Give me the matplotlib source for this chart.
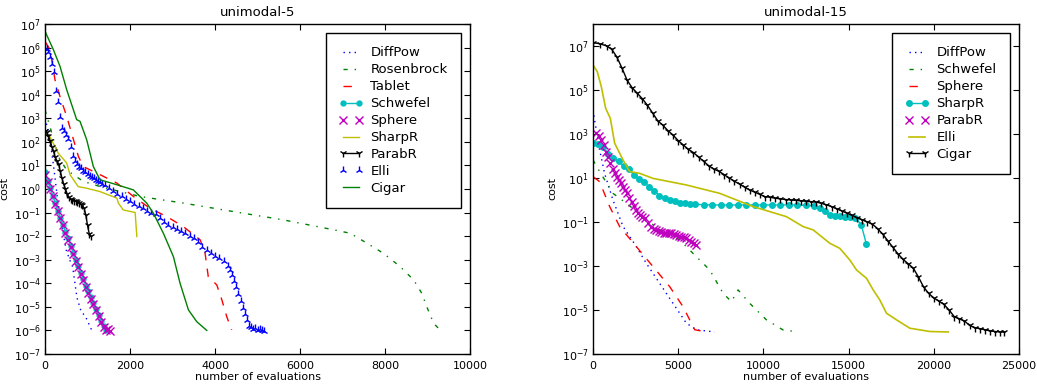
import numpy as np
import matplotlib
matplotlib.use('Agg')
import matplotlib.pyplot as plt
from matplotlib.ticker import NullLocator

# ---- unimodal-5 : (evaluations, log10 cost) ----
u5_diffpow_x = [0, 100, 200, 300, 400, 500, 600, 650, 750, 850, 950, 1100]
u5_diffpow_y = [3.0, 2.3, 1.0, -0.5, -1.6, -2.6, -3.1, -3.3, -4.6, -5.2, -5.4, -6.0]

u5_rosen_x = [0, 160, 310, 510, 900, 1300, 2235, 3255, 4430, 5600, 6780, 7180, 7570, 7960, 8350, 8670, 8860, 8980, 9140, 9330]
u5_rosen_y = [3.36, 2.37, 1.38, 0.8, 0.32, 0.1, -0.32, -0.6, -0.96, -1.31, -1.73, -1.88, -2.3, -2.73, -3.29, -3.86, -4.42, -5.0, -5.7, -6.05]

u5_tablet_x = [0, 120, 235, 350, 510, 670, 785, 900, 1300, 1690, 2080, 2470, 2860, 3255, 3650, 3765, 3840, 4040, 4160, 4275, 4390]
u5_tablet_y = [6.26, 5.91, 4.63, 3.93, 3.08, 2.09, 1.38, 0.95, 0.6, 0.25, -0.32, -0.82, -1.17, -1.6, -2.16, -2.73, -3.72, -4.07, -4.71, -5.42, -5.98]

u5_schwefel_x = [0, 60, 120, 180, 240, 300, 360, 420, 480, 540, 600, 660, 720, 780, 840, 900, 960, 1020, 1080, 1140, 1200, 1260, 1320, 1380, 1440]
u5_schwefel_y = [0.7, 0.35, 0.05, -0.28, -0.6, -0.92, -1.22, -1.52, -1.82, -2.1, -2.4, -2.7, -3.0, -3.28, -3.55, -3.82, -4.1, -4.35, -4.6, -4.85, -5.1, -5.35, -5.6, -5.82, -6.0]

u5_sphere_x = [0, 60, 120, 180, 240, 300, 360, 420, 480, 540, 600, 660, 720, 780, 840, 900, 960, 1020, 1080, 1140, 1200, 1260, 1320, 1380, 1430, 1480, 1530]
u5_sphere_y = [0.6, 0.3, 0.0, -0.3, -0.62, -0.95, -1.25, -1.55, -1.85, -2.15, -2.45, -2.75, -3.05, -3.32, -3.6, -3.87, -4.15, -4.4, -4.65, -4.9, -5.15, -5.4, -5.65, -5.85, -6.0, -5.95, -6.02]

u5_sharpr_x = [0, 120, 310, 510, 590, 780, 980, 1290, 1690, 1725, 1840, 2120, 2160]
u5_sharpr_y = [2.4, 2.2, 1.52, 1.1, 0.6, 0.1, 0.03, -0.11, -0.39, -0.6, -0.89, -1.0, -2.02]

u5_parabr_x = [0, 40, 80, 120, 160, 200, 240, 280, 320, 360, 400, 440, 480, 520, 560, 600, 640, 680, 720, 760, 800, 840, 880, 920, 960, 1000, 1040, 1080]
u5_parabr_y = [2.45, 2.4, 2.25, 2.05, 1.8, 1.6, 1.35, 1.2, 1.05, 0.75, 0.45, 0.2, 0.0, -0.2, -0.35, -0.42, -0.45, -0.5, -0.52, -0.55, -0.6, -0.65, -0.7, -0.82, -1.1, -1.55, -1.9, -2.0]

u5_elli_x = [0, 40, 80, 120, 160, 200, 250, 300, 350, 400, 450, 500, 550, 600, 650, 700, 750, 800, 850, 900,
             950, 1000, 1050, 1100, 1150, 1200, 1250, 1300, 1350, 1400, 1500, 1600, 1700, 1800, 1900, 2000,
             2100, 2200, 2300, 2400, 2500, 2600, 2700, 2800, 2900, 3000, 3100, 3200, 3300, 3400, 3500, 3600,
             3700, 3800, 3900, 4000, 4100, 4200, 4300, 4350, 4400, 4450, 4500, 4550, 4600, 4650, 4700, 4750,
             4800, 4850, 4900, 4950, 5000, 5050, 5100, 5150]
u5_elli_y = [6.0, 5.95, 5.8, 5.6, 5.3, 4.95, 4.15, 3.7, 3.05, 2.6, 2.45, 2.3, 2.1, 1.8, 1.4, 1.2, 1.05, 0.95, 0.9, 0.75,
             0.7, 0.62, 0.55, 0.5, 0.45, 0.38, 0.33, 0.28, 0.22, 0.18, 0.05, -0.08, -0.2, -0.32, -0.42, -0.52,
             -0.62, -0.72, -0.82, -0.92, -1.0, -1.05, -1.25, -1.4, -1.52, -1.62, -1.7, -1.78, -1.88, -1.98, -2.1, -2.25,
             -2.45, -2.6, -2.72, -2.85, -2.95, -3.05, -3.25, -3.45, -3.65, -3.9, -4.15, -4.45, -4.75, -5.05, -5.3, -5.55,
             -5.8, -5.85, -5.95, -5.9, -5.98, -5.95, -6.0, -6.02]

u5_cigar_x = [0, 196, 353, 510, 745, 823, 980, 1137, 1294, 1686, 2078, 2392, 2549, 2784, 3020, 3176, 3373, 3569, 3804]
u5_cigar_y = [6.69, 5.91, 5.2, 4.21, 2.94, 2.87, 2.09, 0.95, 0.39, 0.18, -0.04, -0.6, -1.03, -1.88, -2.87, -4.0, -5.13, -5.63, -6.0]

# ---- unimodal-15 ----
u15_diffpow_x = [0, 196, 392, 685, 1175, 1762, 2545, 3132, 3915, 4699, 5482, 6069, 7146]
u15_diffpow_y = [4.09, 3.18, 2.27, 1.2, 0.0, -1.2, -2.12, -2.88, -3.79, -4.7, -5.6, -5.9, -6.0]

u15_schwefel_x = [0, 392, 1175, 1958, 2937, 3915, 5090, 6069, 6852, 7635, 8124, 8516, 9201, 10180, 11159, 12040]
u15_schwefel_y = [1.82, 1.29, 0.3, -0.15, -0.76, -1.36, -1.82, -2.58, -3.18, -4.24, -4.62, -4.09, -4.7, -5.45, -5.91, -6.0]

u15_sphere_x = [0, 392, 979, 1566, 2545, 3524, 4503, 5286, 5971, 6656]
u15_sphere_y = [1.06, 0.83, -0.3, -1.21, -2.12, -3.03, -3.94, -4.85, -5.9, -6.0]

u15_sharpr_x = [0, 300, 600, 900, 1200, 1500, 1800, 2100, 2400, 2700, 3000, 3300, 3600, 3900, 4200, 4500, 4800,
                5100, 5400, 5700, 6000, 6500, 7000, 7500, 8000, 8500, 9000, 9500, 10000, 10500, 11000, 11500,
                12000, 12500, 13000, 13300, 13600, 13900, 14200, 14500, 14800, 15100, 15400, 15750, 16050]
u15_sharpr_y = [2.6, 2.55, 2.42, 2.1, 1.9, 1.75, 1.55, 1.4, 1.15, 0.95, 0.8, 0.6, 0.4, 0.2, 0.1, 0.0, -0.06,
                -0.12, -0.16, -0.18, -0.2, -0.22, -0.23, -0.23, -0.23, -0.23, -0.23, -0.23, -0.23, -0.23, -0.23, -0.23,
                -0.23, -0.25, -0.28, -0.38, -0.5, -0.7, -0.75, -0.75, -0.76, -0.78, -0.8, -1.14, -2.02]

u15_parabr_x = [196, 340, 489, 640, 783, 900, 1018, 1150, 1273, 1400, 1527, 1650, 1762, 1880, 1997, 2140, 2290,
                2420, 2545, 2660, 2780, 2900, 3035, 3230, 3426, 3570, 3720, 3870, 4013, 4160, 4307, 4450, 4601,
                4750, 4894, 5040, 5188, 5330, 5482, 5630, 5775, 5920, 6069]
u15_parabr_y = [3.03, 2.9, 2.73, 2.5, 2.2, 1.95, 1.67, 1.42, 1.21, 1.06, 0.91, 0.76, 0.61, 0.46, 0.3, 0.1, -0.08,
                -0.27, -0.45, -0.58, -0.68, -0.76, -0.83, -1.06, -1.21, -1.3, -1.36, -1.4, -1.44, -1.48, -1.52, -1.5,
                -1.52, -1.55, -1.59, -1.62, -1.67, -1.7, -1.74, -1.82, -1.89, -1.96, -2.05]

u15_elli_x = [0, 254, 489, 744, 1018, 1273, 1762, 2153, 2741, 3524, 5482, 7439, 9397, 11354, 12333, 12921, 13900,
              14487, 15074, 15466, 16053, 16445, 16836, 17228, 17815, 18598, 19773, 20849]
u15_elli_y = [6.14, 5.83, 5.15, 4.17, 3.71, 2.58, 1.82, 1.29, 1.21, 0.98, 0.68, 0.3, -0.3, -0.76, -1.21, -1.36, -1.97,
              -2.2, -2.73, -3.18, -3.56, -4.09, -4.55, -5.15, -5.45, -5.83, -5.98, -6.0]

u15_cigar_x = [0, 400, 800, 1100, 1400, 1700, 2000, 2300, 2600, 2900, 3200, 3500, 3800, 4100, 4400, 4700, 5000,
               5300, 5600, 5900, 6200, 6500, 6800, 7100, 7400, 7700, 8000, 8300, 8600, 8900, 9200, 9500, 9800,
               10100, 10400, 10700, 11000, 11300, 11600, 11900, 12200, 12500, 12800, 13100, 13400, 13700, 14000,
               14300, 14600, 14900, 15200, 15500, 15800, 16100, 16400, 16700, 17000, 17300, 17600, 17900, 18200,
               18500, 18800, 19100, 19400, 19700, 20000, 20300, 20600, 20900, 21200, 21500, 21800, 22100, 22400,
               22700, 23000, 23300, 23600, 23900, 24150]
u15_cigar_y = [7.15, 7.1, 7.0, 6.85, 6.5, 6.0, 5.45, 5.1, 4.85, 4.6, 4.3, 3.95, 3.6, 3.4, 3.15, 2.95, 2.7,
               2.5, 2.3, 2.15, 1.95, 1.75, 1.55, 1.4, 1.3, 1.15, 1.0, 0.85, 0.72, 0.58, 0.45, 0.35, 0.25,
               0.15, 0.12, 0.08, 0.05, 0.02, 0.0, -0.02, -0.04, -0.06, -0.08, -0.1, -0.15, -0.22, -0.3,
               -0.4, -0.5, -0.6, -0.7, -0.8, -0.9, -1.0, -1.1, -1.3, -1.55, -1.85, -2.15, -2.45, -2.7,
               -2.9, -3.1, -3.5, -3.95, -4.25, -4.45, -4.6, -4.75, -5.0, -5.3, -5.4, -5.5, -5.7, -5.8,
               -5.85, -5.9, -5.95, -5.98, -6.0, -6.0]

plt.rcParams.update({
    'font.size': 8,
    'xtick.direction': 'in', 'ytick.direction': 'in',
    'xtick.top': True, 'ytick.right': True,
    'xtick.major.size': 4, 'ytick.major.size': 4,
    'xtick.major.pad': 5, 'ytick.major.pad': 3,
    'axes.linewidth': 1.0,
    'lines.linewidth': 1.0,
    # old-style dash patterns
    'lines.dashed_pattern': [6, 6],
    'lines.dashdot_pattern': [3, 5, 1, 5],
    'lines.dotted_pattern': [1, 3],
    'lines.scale_dashes': False,
    'legend.numpoints': 2,
    'legend.fancybox': False,
    'legend.edgecolor': 'black',
    'legend.framealpha': 1,
})


def cost(v):
    return 10.0 ** np.array(v)


def style_legend(ax):
    leg = ax.legend(loc='upper right', fontsize=9.5, borderpad=1.0, labelspacing=0.3,
                    handlelength=1.8, handletextpad=0.6, borderaxespad=0.7)
    leg.get_frame().set_linewidth(1.0)


fig = plt.figure(figsize=(10.37, 3.86), dpi=100)
ax1 = fig.add_axes([0.0434, 0.083, 0.41, 0.855])
ax2 = fig.add_axes([0.5718, 0.083, 0.4108, 0.855])

ax1.semilogy(u5_diffpow_x, cost(u5_diffpow_y), 'b:', label='DiffPow')
ax1.semilogy(u5_rosen_x, cost(u5_rosen_y), 'g-.', label='Rosenbrock')
ax1.semilogy(u5_tablet_x, cost(u5_tablet_y), 'r--', label='Tablet')
ax1.semilogy(u5_schwefel_x, cost(u5_schwefel_y), 'c-o', ms=3.5, mec='c', label='Schwefel')
ax1.semilogy(u5_sphere_x, cost(u5_sphere_y), 'mx', ms=6, label='Sphere')
ax1.semilogy(u5_sharpr_x, cost(u5_sharpr_y), 'y-', label='SharpR')
ax1.semilogy(u5_parabr_x, cost(u5_parabr_y), 'k-1', ms=6, label='ParabR')
ax1.semilogy(u5_elli_x, cost(u5_elli_y), 'b2', ms=6, label='Elli')
ax1.semilogy(u5_cigar_x, cost(u5_cigar_y), 'g-', label='Cigar')
ax1.set_xlim(0, 10000)
ax1.set_ylim(1e-7, 1e7)
ax1.set_xticks([0, 2000, 4000, 6000, 8000, 10000])
ax1.set_yticks(10.0 ** np.arange(-7, 8))
ax1.yaxis.set_minor_locator(NullLocator())
ax1.set_title('unimodal-5', fontsize=9.5)
ax1.set_xlabel('number of evaluations', labelpad=1)
ax1.set_ylabel('cost', labelpad=3)
style_legend(ax1)

ax2.semilogy(u15_diffpow_x, cost(u15_diffpow_y), 'b:', label='DiffPow')
ax2.semilogy(u15_schwefel_x, cost(u15_schwefel_y), 'g-.', label='Schwefel')
ax2.semilogy(u15_sphere_x, cost(u15_sphere_y), 'r--', label='Sphere')
ax2.semilogy(u15_sharpr_x, cost(u15_sharpr_y), 'c-o', ms=4, mec='c', label='SharpR')
ax2.semilogy(u15_parabr_x, cost(u15_parabr_y), 'mx', ms=6, label='ParabR')
ax2.semilogy(u15_elli_x, cost(u15_elli_y), 'y-', lw=1.2, label='Elli')
ax2.semilogy(u15_cigar_x, cost(u15_cigar_y), 'k-1', ms=6, label='Cigar')
ax2.set_xlim(0, 25000)
ax2.set_ylim(1e-7, 1e8)
ax2.set_xticks([0, 5000, 10000, 15000, 20000, 25000])
ax2.set_yticks(10.0 ** np.arange(-7, 8, 2))
ax2.yaxis.set_minor_locator(NullLocator())
ax2.set_title('unimodal-15', fontsize=9.5)
ax2.set_xlabel('number of evaluations', labelpad=1)
ax2.set_ylabel('cost', labelpad=3)
style_legend(ax2)

fig.savefig('out.png', dpi=100, facecolor='white')
